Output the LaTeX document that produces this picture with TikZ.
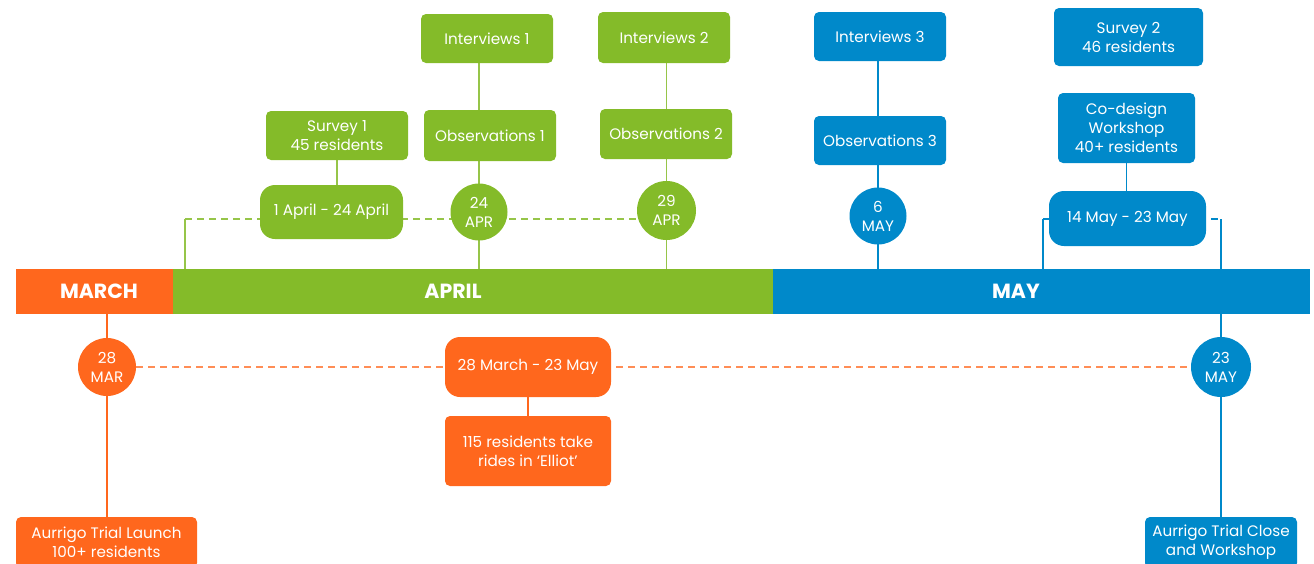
\documentclass[tikz,border=0pt]{standalone}
\usepackage{fontspec}
\setmainfont{Poppins}
\usetikzlibrary{positioning,backgrounds}
\definecolor{tlOrange}{RGB}{255,103,29}
\definecolor{tlGreen}{RGB}{132,187,41}
\definecolor{tlBlue}{RGB}{0,137,202}
\begin{document}
\begin{tikzpicture}[x=1pt, y=-1pt,
  every node/.style={font=\fontsize{15.2}{19}\selectfont, text=white, align=center, inner sep=0pt},
  box/.style={fill=#1, rounded corners=5pt},
  range/.style={fill=#1, rounded corners=15pt},
  datecirc/.style={fill=#1, circle},
  band/.style={fill=#1, minimum height=45pt},
  bandlbl/.style={font=\fontsize{20.5}{24}\selectfont\bfseries, text=white},
  link/.style={draw=#1, line width=1.4pt},
  dlink/.style={draw=#1, line width=1.4pt, dash pattern=on 7pt off 5pt}]
  \useasboundingbox (0,0) rectangle (1314,563);

  % month band
  \node[band=tlOrange, minimum width=157pt, label={[bandlbl, xshift=4.5pt]center:MARCH}] (march) at (94.5,291.5) {};
  \node[band=tlGreen, minimum width=600pt, label={[bandlbl, xshift=-20pt]center:APRIL}] (april) at (473,291.5) {};
  \node[band=tlBlue, minimum width=537pt, label={[bandlbl, xshift=-25.5pt]center:MAY}] (may) at (1041.5,291.5) {};

  % april
  \node[box=tlGreen, minimum width=142pt, minimum height=49pt] (survA) at (337,135.5) {Survey 1\\45 residents};
  \node[range=tlGreen, minimum width=143pt, minimum height=54pt] (rngA) at (331.5,212) {1 April - 24 April};
  \node[box=tlGreen, minimum width=132pt, minimum height=49pt] (intA) at (487,38.5) {Interviews 1};
  \node[box=tlGreen, minimum width=132pt, minimum height=51pt] (obsA) at (490,135.5) {Observations 1};
  \node[datecirc=tlGreen, minimum size=57pt] (aprA) at (479,212) {24\\APR};
  \node[box=tlGreen, minimum width=132pt, minimum height=51pt] (intB) at (664,37.5) {Interviews 2};
  \node[box=tlGreen, minimum width=132pt, minimum height=50pt] (obsB) at (666,134) {Observations 2};
  \node[datecirc=tlGreen, minimum size=59pt] (aprB) at (666.5,210.5) {29\\APR};
  \coordinate (gL) at (185,219);

  % may
  \node[box=tlBlue, minimum width=132pt, minimum height=49pt] (intC) at (880,36.5) {Interviews 3};
  \node[box=tlBlue, minimum width=132pt, minimum height=49pt] (obsC) at (880,140.5) {Observations 3};
  \node[datecirc=tlBlue, minimum size=57pt] (mayA) at (878,216) {6\\MAY};
  \node[box=tlBlue, minimum width=149pt, minimum height=58pt] (survB) at (1128.5,37) {Survey 2\\46 residents};
  \node[box=tlBlue, minimum width=137pt, minimum height=70pt] (codes) at (1126.5,128) {Co-design\\Workshop\\40+ residents};
  \node[range=tlBlue, minimum width=157pt, minimum height=55pt] (rngB) at (1127.5,218.5) {14 May - 23 May};
  \coordinate (bL) at (1043,219);
  \coordinate (bR) at (1221,219);
  \node[datecirc=tlBlue, minimum size=60pt] (mayB) at (1221,367) {23\\MAY};
  \node[box=tlBlue, minimum width=152pt, minimum height=51pt] (close) at (1221,542.5) {Aurrigo Trial Close\\and Workshop};

  % trial
  \node[datecirc=tlOrange, minimum size=58pt] (marA) at (107,367) {28\\MAR};
  \node[range=tlOrange, minimum width=166pt, minimum height=60pt] (rngC) at (528,367) {28 March - 23 May};
  \node[box=tlOrange, minimum width=166pt, minimum height=70pt] (ride) at (528,451) {115 residents take\\rides in ‘Elliot’};
  \node[box=tlOrange, minimum width=181pt, minimum height=51pt] (launch) at (106.5,542.5) {Aurrigo Trial Launch\\100+ residents};

  \begin{scope}[on background layer]
    \draw[link=tlGreen!85] (survA) -- (survA |- rngA);
    \draw[link=tlGreen!85] (aprA |- intA) -- (aprA |- april.north);
    \draw[link=tlGreen!85] (aprB |- intB) -- (aprB |- april.north);
    \draw[dlink=tlGreen!85] (gL) -- (gL -| aprB);
    \draw[link=tlGreen!85] (gL) -- (gL |- april.north);
    \draw[link=tlBlue] (mayA |- intC) -- (mayA |- may.north);
    \draw[link=tlBlue] (codes) -- (codes |- rngB);
    \draw[dlink=tlBlue] (bL) -- (bR);
    \draw[link=tlBlue] (bL) -- (bL |- may.north);
    \draw[link=tlBlue] (bR) -- (bR |- may.north);
    \draw[link=tlBlue] (mayB |- may.south) -- (mayB |- close.north);
    \draw[link=tlOrange] (marA |- march.south) -- (marA |- launch.north);
    \draw[dlink=tlOrange!75] (marA) -- (mayB);
    \draw[link=tlOrange] (rngC) -- (ride);
  \end{scope}
\end{tikzpicture}
\end{document}
